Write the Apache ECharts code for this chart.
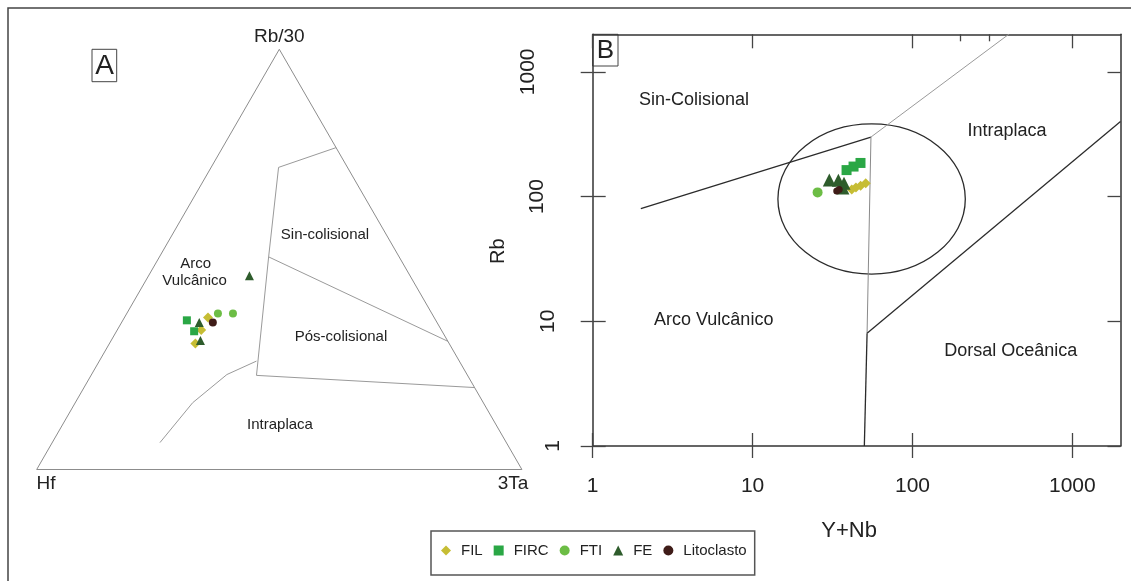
<!DOCTYPE html>
<html>
<head>
<meta charset="utf-8">
<script src="https://cdn.jsdelivr.net/npm/echarts@6/dist/echarts.min.js"></script>
<style>
html,body{margin:0;padding:0;background:#fff;}
#c{width:1131px;height:581px;}
</style>
</head>
<body>
<div id="c"></div>
<script>
// ================= DATA =================
const groups = ['FIL', 'FIRC', 'FTI', 'FE', 'Litoclasto'];

// Panel A: Hf - Rb/30 - 3Ta ternary, compositions in % [Hf, Rb/30, 3Ta]
const ternFIL  = [[46.6, 36.2, 17.2], [49.5, 33.2, 17.3], [52.3, 30.0, 17.7]];
const ternFIRC = [[51.3, 35.5, 13.2], [51.1, 32.9, 16.0]];
const ternFTI  = [[44.1, 37.1, 18.8], [41.0, 37.1, 21.9]];
const ternFE   = [[49.0, 35.0, 16.0], [50.9, 30.7, 18.4], [33.1, 46.1, 20.8]];
const ternLito = [[46.2, 35.0, 18.8]];

// Panel B: Rb vs Y+Nb, points [Y+Nb, Rb]
const rbFIL  = [[41.7, 114], [44.3, 118], [47.4, 122], [51, 128]];
const rbFIRC = [[38.7, 163], [42.8, 174], [47.3, 186]];
const rbFTI  = [[25.5, 108]];
const rbFE   = [[30.2, 136], [34.4, 135], [37.3, 128], [36.7, 117]];
const rbLito = [[33.6, 111], [34.8, 114]];

// Ternary outline and field boundaries [Hf, Rb/30, 3Ta]
const ternOutline = [[100, 0, 0], [0, 100, 0], [0, 0, 100], [100, 0, 0]];
const ternSinCol  = [[0, 76.6, 23.4], [14.2, 71.9, 13.9], [26.9, 50.6, 22.5], [43.5, 22.4, 34.1]];
const ternPosCol  = [[26.9, 50.6, 22.5], [0, 30.5, 69.5]];
const ternIntra   = [[43.5, 22.4, 34.1], [0, 19.5, 80.5]];
const ternCurve   = [[41.8, 25.8, 32.4], [49.5, 22.6, 27.9], [59.9, 15.9, 24.2], [71.4, 6.4, 22.2]];

// Rb vs Y+Nb field boundaries [Y+Nb, Rb]
const bndSynVag      = [[2, 80], [55, 300]];
const bndWpg         = [[55, 300], [400, 2000]];
const bndVagOrgUpper = [[55, 300], [52, 8]];
const bndVagOrgLower = [[52, 8], [50, 1]];
const bndOrgWpg      = [[52, 8], [2000, 400]];
const postColEllipse = [14.4, 23.9, 214, 382]; // [xmin, ymin, xmax, ymax]

// Axis ticks
const logTickValues = [1, 10, 100, 1000];
const topMinorTicks = [200, 300];
const logMin = 1, logMax = 2000;

// ================= HELPERS =================
const SQ3 = Math.sqrt(3) / 2;
function tern(p) {
  const s = p[0] + p[1] + p[2];
  const b = p[1] / s, c = p[2] / s;
  return [c + b / 2, b * SQ3];
}
const FONT = 'Liberation Sans, Arial, Helvetica, sans-serif';
const styles = {
  FIL: {symbol: 'diamond', color: '#c6bd34', a: 10, b: 10},
  FIRC: {symbol: 'rect', color: '#2aa745', a: 8, b: 10},
  FTI: {symbol: 'circle', color: '#6cbd45', a: 8, b: 10},
  FE: {symbol: 'triangle', color: '#2e5c2c', a: 9, b: 13},
  Litoclasto: {symbol: 'circle', color: '#3f1c18', a: 8, b: 7}
};
const ternSets = {FIL: ternFIL, FIRC: ternFIRC, FTI: ternFTI, FE: ternFE, Litoclasto: ternLito};
const rbSets = {FIL: rbFIL, FIRC: rbFIRC, FTI: rbFTI, FE: rbFE, Litoclasto: rbLito};

function lineA(data, color) {
  return {type: 'line', xAxisIndex: 0, yAxisIndex: 0, data: data.map(tern), showSymbol: false,
    symbol: 'none', silent: true, lineStyle: {color: color || '#9a9a9a', width: 1}, z: 1};
}
function lineB(data, color, w) {
  return {type: 'line', xAxisIndex: 1, yAxisIndex: 1, data: data, showSymbol: false,
    symbol: 'none', silent: true, lineStyle: {color: color, width: w}, z: 1};
}

const series = [
  lineA(ternOutline, '#8c8c8c'),
  lineA(ternSinCol), lineA(ternPosCol), lineA(ternIntra), lineA(ternCurve),
  lineB(bndSynVag, '#2b2b2b', 1.3),
  lineB(bndWpg, '#9a9a9a', 1),
  lineB(bndVagOrgUpper, '#8a8a8a', 1),
  lineB(bndVagOrgLower, '#2b2b2b', 1.3),
  lineB(bndOrgWpg, '#2b2b2b', 1.3),
  {
    type: 'custom', xAxisIndex: 1, yAxisIndex: 1, silent: true, z: 1,
    data: [postColEllipse], encode: {x: [0, 2], y: [1, 3]},
    renderItem: function (params, api) {
      const p0 = api.coord([api.value(0), api.value(1)]);
      const p1 = api.coord([api.value(2), api.value(3)]);
      return {
        type: 'ellipse',
        shape: {cx: (p0[0] + p1[0]) / 2, cy: (p0[1] + p1[1]) / 2,
                rx: Math.abs(p1[0] - p0[0]) / 2, ry: Math.abs(p1[1] - p0[1]) / 2},
        style: {fill: null, stroke: '#2b2b2b', lineWidth: 1.3}
      };
    }
  }
];
groups.forEach(function (g) {
  const st = styles[g];
  series.push({name: g, type: 'scatter', xAxisIndex: 0, yAxisIndex: 0, symbol: st.symbol,
    symbolSize: st.a, itemStyle: {color: st.color, opacity: 1}, data: ternSets[g].map(tern), z: 3});
  series.push({name: g, type: 'scatter', xAxisIndex: 1, yAxisIndex: 1, symbol: st.symbol,
    symbolSize: st.b, itemStyle: {color: st.color, opacity: 1}, data: rbSets[g], z: 3});
});

function logAxis(extra) {
  return Object.assign({
    type: 'log', logBase: 10, min: logMin, max: logMax, gridIndex: 1,
    splitLine: {show: false}, minorTick: {show: false}, minorSplitLine: {show: false},
    axisLine: {show: false, onZero: false, lineStyle: {color: '#333', width: 1.5}},
    axisTick: {show: false},
    axisLabel: {show: false}
  }, extra);
}
const tickLabelFmt = function (v) { return String(Math.round(v)); };
const tickStyle = {color: '#444', width: 1.3};

// left-axis labels in the reference drift slightly; one label-only axis per tick value
const yLabelMargins = [29, 34, 45, 54];
const yLabelAxes = logTickValues.map(function (v, i) {
  return logAxis({position: 'left',
    axisLabel: {show: true, fontSize: 21, color: '#222', margin: yLabelMargins[i], rotate: 90,
                customValues: [v], formatter: tickLabelFmt, fontFamily: FONT}});
});

const option = {
  animation: false,
  backgroundColor: '#ffffff',
  textStyle: {fontFamily: FONT},
  grid: [
    {left: 36.7, top: 49.3, width: 485.2, height: 420.2},
    {left: 592.7, top: 34.3, width: 527.8, height: 411.7}
  ],
  xAxis: [
    {type: 'value', gridIndex: 0, min: 0, max: 1, show: false},
    logAxis({position: 'bottom',
      axisLine: {show: true, onZero: false, lineStyle: {color: '#333', width: 1.5}},
      axisTick: {show: true, inside: false, length: 12, lineStyle: tickStyle, customValues: logTickValues},
      axisLabel: {show: true, fontSize: 21, color: '#222', margin: 30, formatter: tickLabelFmt,
                  customValues: logTickValues, fontFamily: FONT},
      name: 'Y+Nb', nameLocation: 'middle', nameGap: 74,
      nameTextStyle: {fontSize: 22, color: '#222', padding: [0, 15, 0, 0], fontFamily: FONT}}),
    logAxis({position: 'bottom',
      axisTick: {show: true, inside: true, length: 13, lineStyle: tickStyle, customValues: logTickValues}}),
    logAxis({position: 'top',
      axisLine: {show: true, onZero: false, lineStyle: {color: '#333', width: 1.5}},
      axisTick: {show: true, inside: true, length: 14, lineStyle: tickStyle, customValues: logTickValues}}),
    logAxis({position: 'top',
      axisTick: {show: true, inside: true, length: 7, lineStyle: tickStyle, customValues: topMinorTicks}})
  ],
  yAxis: [
    {type: 'value', gridIndex: 0, min: 0, max: SQ3, show: false},
    logAxis({position: 'left',
      axisLine: {show: true, onZero: false, lineStyle: {color: '#333', width: 1.5}},
      axisTick: {show: true, inside: false, length: 12, lineStyle: tickStyle, customValues: logTickValues},
      name: 'Rb', nameLocation: 'middle', nameGap: 84,
      nameTextStyle: {fontSize: 20, color: '#222', padding: [0, 22, 0, 0], fontFamily: FONT}}),
    logAxis({position: 'left',
      axisTick: {show: true, inside: true, length: 13, lineStyle: tickStyle, customValues: logTickValues}}),
    logAxis({position: 'right',
      axisLine: {show: true, onZero: false, lineStyle: {color: '#333', width: 1.5}},
      axisTick: {show: true, inside: true, length: 13, lineStyle: tickStyle, customValues: logTickValues}})
  ].concat(yLabelAxes),
  legend: {
    data: groups, left: 431, top: 531, orient: 'horizontal',
    itemWidth: 10, itemHeight: 10, itemGap: 11,
    padding: [12, 8, 17, 10],
    borderColor: '#555', borderWidth: 1.5,
    textStyle: {fontSize: 15, color: '#222', fontFamily: FONT, padding: [0, 0, 0, 5]}
  },
  graphic: [
    {type: 'rect', silent: true, z: -10, shape: {x: 8, y: 8, width: 1300, height: 800},
     style: {fill: null, stroke: '#444', lineWidth: 1.5}},
    {type: 'rect', silent: true, shape: {x: 92, y: 49.3, width: 24.7, height: 32.4},
     style: {fill: null, stroke: '#444', lineWidth: 1}},
    {type: 'text', silent: true, x: 104.5, y: 66, style: {text: 'A', fontSize: 28, fontFamily: FONT, fill: '#222', align: 'center', verticalAlign: 'middle'}},
    {type: 'rect', silent: true, shape: {x: 592.7, y: 34.3, width: 25.3, height: 31.7},
     style: {fill: null, stroke: '#444', lineWidth: 1}},
    {type: 'text', silent: true, x: 605.4, y: 51, style: {text: 'B', fontSize: 26, fontFamily: FONT, fill: '#222', align: 'center', verticalAlign: 'middle'}},
    // Panel A labels
    {type: 'text', silent: true, x: 279.3, y: 37, style: {text: 'Rb/30', fontSize: 19, fontFamily: FONT, fill: '#222', align: 'center', verticalAlign: 'middle'}},
    {type: 'text', silent: true, x: 46, y: 484, style: {text: 'Hf', fontSize: 19, fontFamily: FONT, fill: '#222', align: 'center', verticalAlign: 'middle'}},
    {type: 'text', silent: true, x: 513, y: 484, style: {text: '3Ta', fontSize: 19, fontFamily: FONT, fill: '#222', align: 'center', verticalAlign: 'middle'}},
    {type: 'text', silent: true, x: 195.7, y: 264.3, style: {text: 'Arco', fontSize: 15, fontFamily: FONT, fill: '#222', align: 'center', verticalAlign: 'middle'}},
    {type: 'text', silent: true, x: 194.6, y: 281.3, style: {text: 'Vulcânico', fontSize: 15, fontFamily: FONT, fill: '#222', align: 'center', verticalAlign: 'middle'}},
    {type: 'text', silent: true, x: 325, y: 235, style: {text: 'Sin-colisional', fontSize: 15, fontFamily: FONT, fill: '#222', align: 'center', verticalAlign: 'middle'}},
    {type: 'text', silent: true, x: 341, y: 337, style: {text: 'Pós-colisional', fontSize: 15, fontFamily: FONT, fill: '#222', align: 'center', verticalAlign: 'middle'}},
    {type: 'text', silent: true, x: 280, y: 425, style: {text: 'Intraplaca', fontSize: 15, fontFamily: FONT, fill: '#222', align: 'center', verticalAlign: 'middle'}},
    // Panel B labels
    {type: 'text', silent: true, x: 694, y: 100, style: {text: 'Sin-Colisional', fontSize: 18, fontFamily: FONT, fill: '#222', align: 'center', verticalAlign: 'middle'}},
    {type: 'text', silent: true, x: 1007, y: 131, style: {text: 'Intraplaca', fontSize: 18, fontFamily: FONT, fill: '#222', align: 'center', verticalAlign: 'middle'}},
    {type: 'text', silent: true, x: 713.7, y: 320.5, style: {text: 'Arco Vulcânico', fontSize: 18, fontFamily: FONT, fill: '#222', align: 'center', verticalAlign: 'middle'}},
    {type: 'text', silent: true, x: 1010.8, y: 351.5, style: {text: 'Dorsal Oceânica', fontSize: 18, fontFamily: FONT, fill: '#222', align: 'center', verticalAlign: 'middle'}}
  ],
  series: series
};

const chart = echarts.init(document.getElementById('c'), null, {renderer: 'canvas'});
chart.setOption(option);
</script>
</body>
</html>
